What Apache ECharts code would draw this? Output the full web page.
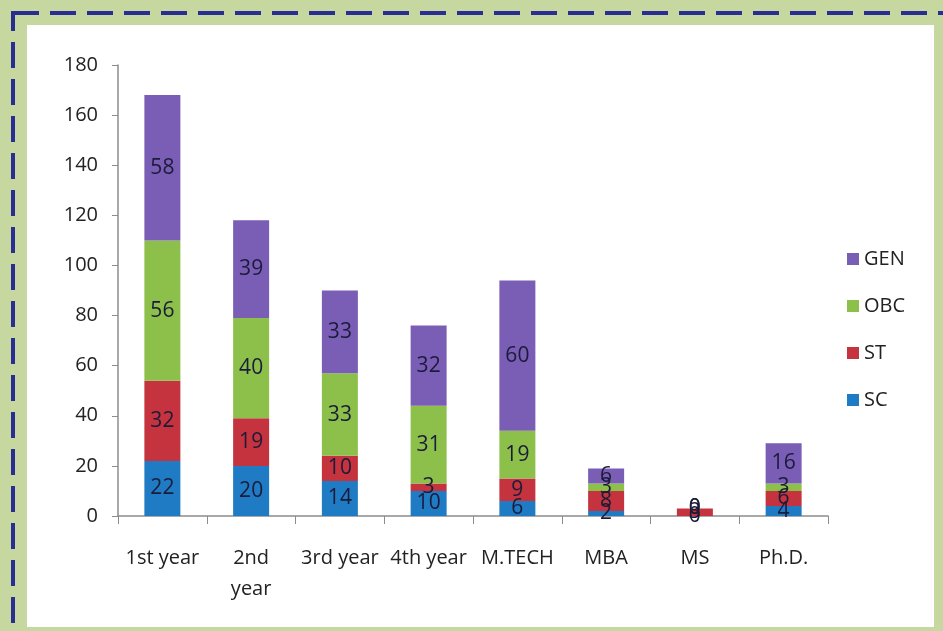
<!DOCTYPE html>
<html>
<head>
<meta charset="utf-8">
<script src="https://cdn.jsdelivr.net/npm/echarts@6/dist/echarts.min.js"></script>
<style>
  html, body { margin: 0; padding: 0; background: #c6d89f; }
  #chart { width: 943px; height: 631px; }
</style>
</head>
<body>
<div id="chart"></div>
<script>
// Student enrolment by course and category
const categories = ['1st year', '2nd\nyear', '3rd year', '4th year', 'M.TECH', 'MBA', 'MS', 'Ph.D.'];
const scValues  = [22, 20, 14, 10, 6, 2, 0, 4];
const stValues  = [32, 19, 10, 3, 9, 8, 3, 6];
const obcValues = [56, 40, 33, 31, 19, 3, 0, 3];
const genValues = [58, 39, 33, 32, 60, 6, 0, 16];
const yTicks = { min: 0, max: 180, interval: 20 };

const colors = { SC: '#1f7bc4', ST: '#c5333e', OBC: '#8cc04b', GEN: '#7a5db5' };
const FONT = 'Open Sans';

function makeSeries(name, values) {
  return {
    name: name,
    type: 'bar',
    stack: 'total',
    data: values,
    barWidth: 36,
    itemStyle: { color: colors[name] },
    label: {
      show: true,
      position: 'inside',
      color: '#1b1b3a',
      fontSize: 21,
      fontFamily: FONT
    }
  };
}

const chart = echarts.init(document.getElementById('chart'), null, { renderer: 'canvas' });
chart.setOption({
  backgroundColor: '#c6d89f',
  animation: false,
  graphic: [
    {
      type: 'rect',
      z: -10,
      shape: { x: 27, y: 25, width: 907, height: 602 },
      style: { fill: '#ffffff' }
    },
    {
      type: 'rect',
      z: -9,
      shape: { x: 13, y: 13, width: 950, height: 650 },
      style: { fill: 'none', stroke: '#2a2e92', lineWidth: 4, lineDash: [26, 11] }
    }
  ],
  grid: { left: 118, right: 115, top: 65, bottom: 115 },
  legend: {
    orient: 'vertical',
    left: 842,
    top: 244,
    itemWidth: 12,
    itemHeight: 12,
    itemGap: 27,
    itemStyle: { borderWidth: 0 },
    icon: 'rect',
    data: ['GEN', 'OBC', 'ST', 'SC'],
    textStyle: { fontSize: 20, color: '#222', fontFamily: FONT }
  },
  xAxis: {
    type: 'category',
    data: categories,
    axisLine: { lineStyle: { color: '#8c8c8c', width: 1.5 } },
    axisTick: { show: true, alignWithLabel: false, length: 8, lineStyle: { color: '#8c8c8c' } },
    axisLabel: {
      color: '#222',
      fontSize: 20,
      fontFamily: FONT,
      margin: 27,
      lineHeight: 31,
      interval: 0
    }
  },
  yAxis: {
    type: 'value',
    min: yTicks.min,
    max: yTicks.max,
    interval: yTicks.interval,
    splitLine: { show: false },
    axisLine: { show: true, lineStyle: { color: '#8c8c8c', width: 1.5 } },
    axisTick: { show: true, length: 6, lineStyle: { color: '#8c8c8c' } },
    axisLabel: { color: '#222', fontSize: 20, fontFamily: FONT, margin: 20 }
  },
  series: [
    makeSeries('SC', scValues),
    makeSeries('ST', stValues),
    makeSeries('OBC', obcValues),
    makeSeries('GEN', genValues)
  ]
});
</script>
</body>
</html>
